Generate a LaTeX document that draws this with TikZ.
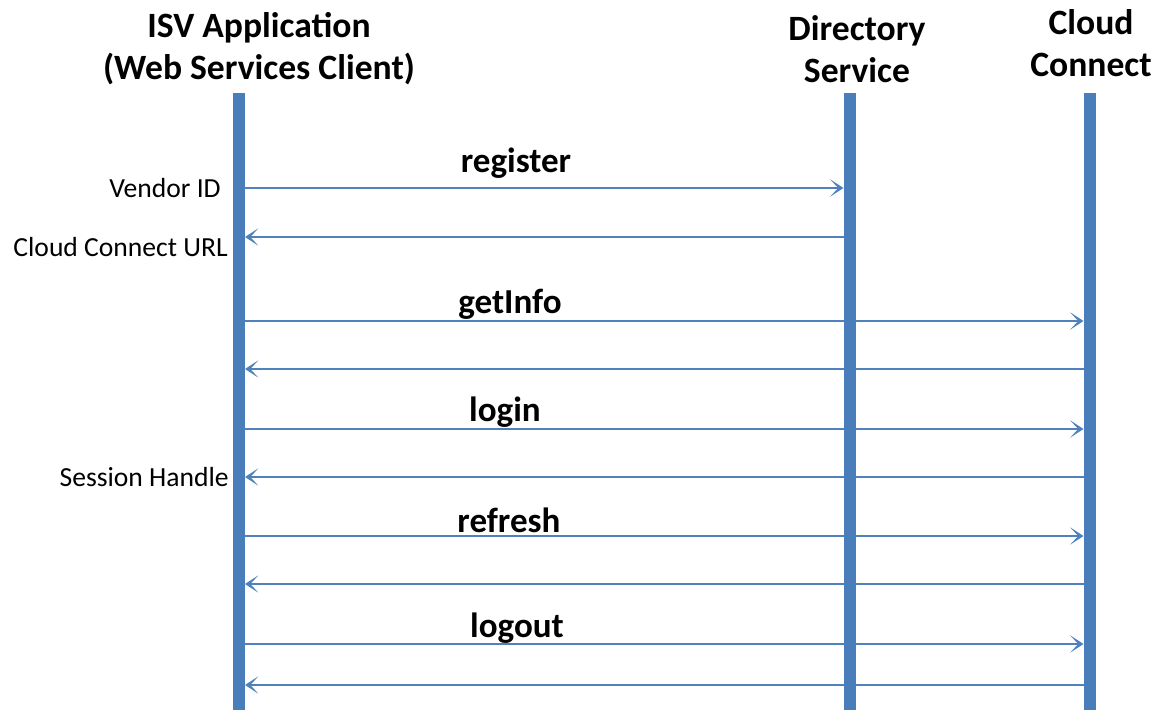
\documentclass[tikz,border=0pt]{standalone}
\usepackage{fontspec}
\setmainfont{Carlito}
\usetikzlibrary{arrows.meta}
\definecolor{lifeblue}{HTML}{4A7EBB}
\definecolor{msgblue}{HTML}{4F81BD}
\tikzset{
  lifeline/.style={draw=lifeblue, line width=9pt},
  msg/.style={draw=msgblue, line width=1.6pt, -{Stealth[length=10pt,width=13pt,inset=6pt]}},
  title/.style={font=\fontsize{26.7}{31.5}\selectfont\bfseries, align=center, inner sep=0pt},
  mlabel/.style={font=\fontsize{26.3}{31}\selectfont\bfseries, inner sep=0pt},
  slabel/.style={font=\fontsize{20.7}{24}\selectfont, inner sep=0pt, anchor=east},
}
\begin{document}
\begin{tikzpicture}[x=0.75pt,y=-0.75pt]
\useasboundingbox (0,0) rectangle (1160,710);
% lifeline coordinates
\coordinate (isvT) at (239,93);   \coordinate (isvB) at (239,710);
\coordinate (dirT) at (849.5,93); \coordinate (dirB) at (849.5,710);
\coordinate (ccT) at (1089.5,93); \coordinate (ccB) at (1089.5,710);
\coordinate (isvE) at (245,0);
\coordinate (dirE) at (843.5,0);
\coordinate (ccE) at (1083.5,0);
% message rows
\coordinate (r1) at (0,188);
\coordinate (r2) at (0,237);
\coordinate (r3) at (0,321);
\coordinate (r4) at (0,369);
\coordinate (r5) at (0,429);
\coordinate (r6) at (0,477);
\coordinate (r7) at (0,536);
\coordinate (r8) at (0,584);
\coordinate (r9) at (0,644);
\coordinate (r10) at (0,685);
% messages
\draw[msg] (isvE |- r1) -- (dirE |- r1);
\draw[msg] (dirE |- r2) -- (isvE |- r2);
\draw[msg] (isvE |- r3) -- (ccE |- r3);
\draw[msg] (ccE |- r4) -- (isvE |- r4);
\draw[msg] (isvE |- r5) -- (ccE |- r5);
\draw[msg] (ccE |- r6) -- (isvE |- r6);
\draw[msg] (isvE |- r7) -- (ccE |- r7);
\draw[msg] (ccE |- r8) -- (isvE |- r8);
\draw[msg] (isvE |- r9) -- (ccE |- r9);
\draw[msg] (ccE |- r10) -- (isvE |- r10);
% lifelines
\draw[lifeline] (isvT) -- (isvB);
\draw[lifeline] (dirT) -- (dirB);
\draw[lifeline] (ccT) -- (ccB);
% titles
\node[title] (tisv) at (259,49) {ISV Application\\(Web Services Client)};
\node[title] (tdir) at (857,49) {Directory\\Service};
\node[title] (tcc) at (1091,43) {Cloud\\Connect};
% message labels
\node[mlabel] (lreg) at (516,163) {register};
\node[mlabel] (lget) at (510,304) {getInfo};
\node[mlabel] (llog) at (505,412) {login};
\node[mlabel] (lref) at (509,520) {refresh};
\node[mlabel] (lout) at (517,628) {logout};
% side labels
\node[slabel] (svid) at (221,188) {Vendor ID};
\node[slabel] (surl) at (228,247) {Cloud Connect URL};
\node[slabel] (ssh) at (229,477) {Session Handle};
\end{tikzpicture}
\end{document}
